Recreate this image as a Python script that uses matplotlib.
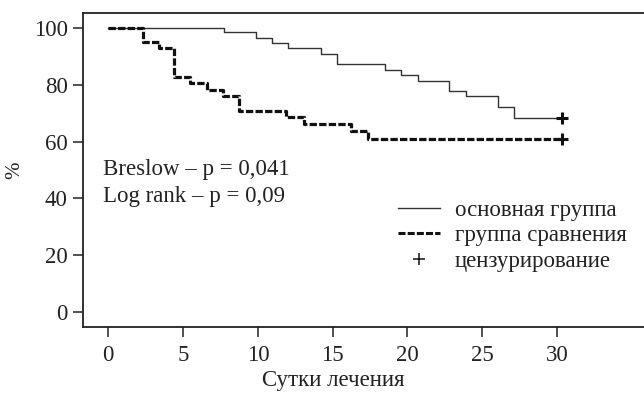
import matplotlib.pyplot as plt
from matplotlib.lines import Line2D

plt.rcParams['font.family'] = ['Liberation Serif', 'DejaVu Serif']

# Kaplan-Meier steps: time of each drop and the level after it (percent)
main_t = [0, 7.73, 9.85, 10.96, 11.99, 14.2, 15.27, 18.49, 19.56, 20.68, 22.77, 23.89, 26.03, 27.14, 30.35]
main_s = [100, 98.5, 96.4, 94.6, 92.9, 90.7, 87.2, 85.2, 83.5, 81.4, 77.8, 76.2, 72.2, 68.4, 68.4]

cmp_t = [0, 2.30, 3.41, 4.39, 5.46, 6.62, 7.65, 8.76, 11.9, 13.05, 16.2, 17.38, 30.35]
cmp_s = [100, 95.0, 92.9, 82.9, 80.5, 78.2, 76.1, 70.8, 68.6, 66.1, 63.8, 61.0, 61.0]

xticks = [0, 5, 10, 15, 20, 25, 30]
yticks = [0, 20, 40, 60, 80, 100]

ink = '#222222'
dash = (0, (2.3, 0.7))

fig = plt.figure(figsize=(6.44, 3.93), dpi=100)
ax = fig.add_axes([0.1289, 0.168, 0.8711, 0.799])

ax.step(main_t, main_s, where='post', color='#333333', lw=1.0)
ax.step(cmp_t, cmp_s, where='post', color='#111111', lw=2.3, ls=dash)
# censored observations at the end of follow-up
ax.plot(main_t[-1], main_s[-1], marker='+', ms=9, mew=2.2, color='#111111', ls='none')
ax.plot(cmp_t[-1], cmp_s[-1], marker='+', ms=9, mew=2.2, color='#111111', ls='none')

ax.set_xlim(-1.69, 35.81)
ax.set_ylim(-5.28, 105.28)
ax.set_xticks(xticks)
ax.set_yticks(yticks)
ax.tick_params(direction='out', length=7, width=1.1, labelsize=16.5, colors=ink, pad=4)
ax.tick_params(axis='x', pad=6)
for side in ['left', 'top', 'bottom']:
    ax.spines[side].set_linewidth(1.3)
    ax.spines[side].set_color(ink)
ax.spines['right'].set_visible(False)

ax.set_xlabel('Сутки лечения', fontsize=16.5, color=ink, va='bottom')
ax.xaxis.set_label_coords(0.4456, -0.205)
ax.set_ylabel('%', fontsize=15, color=ink)
ax.yaxis.set_label_coords(-0.1055, 0.5)

ax.text(0.036, 0.5, 'Breslow – p = 0,041', transform=ax.transAxes, fontsize=16.5, color=ink, va='center')
ax.text(0.036, 0.414, 'Log rank – p = 0,09', transform=ax.transAxes, fontsize=16.5, color=ink, va='center')

handles = [
    Line2D([], [], color='#333333', lw=1.0),
    Line2D([], [], color='#111111', lw=2.2, ls=dash),
    Line2D([], [], color='#111111', marker='+', ms=9, mew=1.1, ls='none'),
]
labels = ['основная группа', 'группа сравнения', 'цензурирование']
ax.legend(handles, labels, loc='upper left', bbox_to_anchor=(0.561, 0.405), frameon=False,
          fontsize=16.5, handlelength=1.85, handletextpad=0.65, labelspacing=0.2,
          borderaxespad=0, borderpad=0, labelcolor=ink)

fig.savefig('out.png', dpi=100)
